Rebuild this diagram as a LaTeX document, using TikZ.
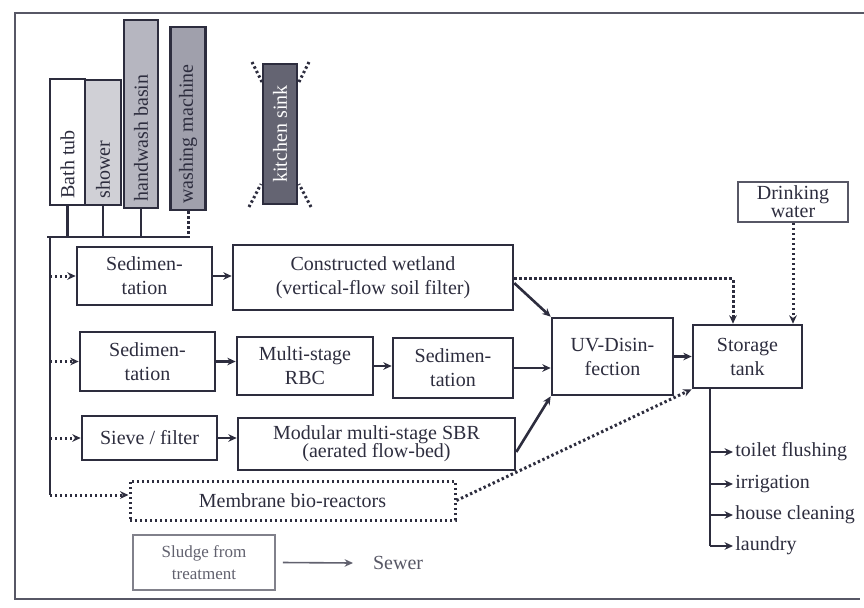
\documentclass[tikz,border=0pt]{standalone}
\usepackage{fontspec}
\setmainfont{Liberation Serif}
\newfontfamily\diagfont{Liberation Serif}
\usetikzlibrary{arrows.meta,calc}
\definecolor{ink}{RGB}{45,45,62}
\definecolor{fillA}{RGB}{208,208,214}
\definecolor{fillB}{RGB}{182,182,192}
\definecolor{fillC}{RGB}{160,160,172}
\definecolor{fillD}{RGB}{100,100,114}
\begin{document}
\begin{tikzpicture}[x=0.5pt,y=-0.5pt,
  every node/.style={font=\diagfont\fontsize{10}{12}\selectfont, text=ink},
  box/.style={draw=ink, line width=1.3pt, align=center, inner sep=1pt},
  srcbox/.style={draw=ink, line width=1.1pt, inner sep=0pt},
  srclabel/.style={rotate=90, anchor=west, inner xsep=3.5pt, inner ysep=1pt},
  ln/.style={draw=ink, line width=1.3pt},
  tip/.style={-{Stealth[length=4.2pt,width=3.8pt]}},
  arr/.style={ln, tip},
  dots/.style={draw=ink, line width=1.5pt, dash pattern=on 1.2pt off 1.3pt},
  dotarr/.style={dots, tip},
  dotbox/.style={dots, align=center, inner sep=1pt},
  outlbl/.style={anchor=west, inner xsep=1pt}
]
\useasboundingbox (0,0) rectangle (864,607);
% frame
\draw[draw=ink!80, line width=1pt] (864,13) -- (15,13) -- (15,599) -- (860,599);

% sources
\node[srcbox, fill=white, minimum width=17.5pt, minimum height=63pt] (bath) at (67.5,142) {};
\node[srclabel] (bathT) at (bath.south) {Bath tub};
\node[srcbox, fill=fillA, minimum width=18pt, minimum height=62.5pt] (shower) at (103,142.5) {};
\node[srclabel] (showerT) at (shower.south) {shower};
\node[srcbox, fill=fillB, minimum width=17pt, minimum height=94pt] (hand) at (141,114) {};
\node[srclabel] (handT) at (hand.south) {handwash basin};
\node[srcbox, fill=fillC, minimum width=17.5pt, minimum height=91.5pt] (wash) at (188,118.5) {};
\node[srclabel] (washT) at (wash.south) {washing machine};
\node[srcbox, fill=fillD, minimum width=17pt, minimum height=70pt] (kit) at (280,134) {};
\node[rotate=90, text=white, inner sep=1pt] (kitT) at (kit) {kitchen sink};
\draw[dots] (252,62) -- (262,82);
\draw[dots] (309,62) -- (299,82);
\draw[dots] (249,207) -- (261,184);
\draw[dots] (311,207) -- (299,184);

% collector
\coordinate (busL) at (47,237);
\coordinate (busR) at (190,237);
\coordinate (trunkTop) at (50,237);
\coordinate (trunkBot) at (50,495);
\draw[ln] (busL) -- (busR);
\draw[ln] (bath.south) -- (bath.south |- busL);
\draw[ln] (shower.south) -- (shower.south |- busL);
\draw[ln] (hand.south) -- (hand.south |- busL);
\draw[dots] (wash.south) -- (wash.south |- busL);
\draw[ln] (trunkTop) -- (trunkBot);

% treatment boxes
\node[box, minimum width=67.5pt, minimum height=29pt] (sed1) at (144.5,276) {Sedimen-\\tation};
\node[box, minimum width=140pt, minimum height=32.5pt] (wet) at (373,277.5) {Constructed wetland\\(vertical-flow soil filter)};
\node[box, minimum width=67.5pt, minimum height=29.5pt] (sed2) at (147.5,361.5) {Sedimen-\\tation};
\node[box, minimum width=68pt, minimum height=29pt] (rbc) at (305,366) {Multi-stage\\RBC};
\node[box, minimum width=60pt, minimum height=30pt] (sed3) at (453,368) {Sedimen-\\tation};
\node[box, minimum width=60.5pt, minimum height=38.5pt] (uv) at (612.5,356.5) {UV-Disin-\\fection};
\node[box, minimum width=54.5pt, minimum height=31.5pt] (st) at (747.5,356.5) {Storage\\tank};
\node[box, minimum width=67.5pt, minimum height=22pt] (sieve) at (149.5,438) {Sieve / filter};
\node[box, minimum width=138.5pt, minimum height=26pt] (sbr) at (376.5,444) {Modular multi-stage SBR\\[-3pt](aerated flow-bed)};
\node[dotbox, minimum width=162.5pt, minimum height=19.5pt] (mbr) at (292.5,500.5) {Membrane bio-reactors};
\node[draw=ink!60, line width=0.8pt, align=center, inner sep=1pt, minimum width=71pt, minimum height=27.5pt,
      text=ink!75, font=\diagfont\fontsize{8.5}{11}\selectfont] (sludge) at (204,562.5) {Sludge from\\treatment};
\node[anchor=west, text=ink!80] (sewer) at (366,563) {Sewer};
\node[draw=ink!80, line width=1pt, align=center, inner sep=1pt, minimum width=55pt, minimum height=20pt,
      font=\diagfont\fontsize{10}{9}\selectfont] (dw) at (793,202) {Drinking\\water};

% inputs from trunk
\draw[dotarr] (trunkTop |- sed1.west) -- (sed1.west);
\draw[dotarr] (trunkTop |- sed2.west) -- (sed2.west);
\draw[dotarr] (trunkTop |- sieve.west) -- (sieve.west);
\draw[dotarr] (trunkBot) -- (trunkBot -| mbr.west);

% row flows
\draw[arr] (sed1.east) -- (sed1.east -| wet.west);
\draw[arr] (sed2.east) -- (sed2.east -| rbc.west);
\draw[arr] (rbc.east) -- (rbc.east -| sed3.west);
\draw[arr] (sed3.east) -- (sed3.east -| uv.west);
\draw[arr] (sieve.east) -- (sieve.east -| sbr.west);
\draw[arr] ([yshift=-2.8pt]wet.east) -- (uv.north west);
\draw[arr] ([yshift=-4pt]sbr.east) -- (uv.south west);
\draw[arr] (uv.east) -- (uv.east -| st.west);
\draw[dotarr] ([yshift=-0.7pt]wet.east) -| ([xshift=-7.25pt]st.north);
\draw[dotarr] (dw.south) -- (dw.south |- st.north);
\draw[dotarr] (mbr.east) -- (st.south west);
\draw[draw=ink!75, line width=0.8pt, tip] ([xshift=3.5pt]sludge.east) -- ([xshift=-6.5pt]sewer.west);

% uses
\coordinate (tap) at ([xshift=-18.75pt]st.south);
\node[outlbl] (toilet) at (733,452) {toilet flushing};
\node[outlbl] (irr) at (733,484) {irrigation};
\node[outlbl] (clean) at (733,515) {house cleaning};
\node[outlbl] (laun) at (733,546) {laundry};
\draw[ln] (tap) -- (tap |- laun.west);
\draw[arr] (tap |- toilet.west) -- (toilet.west);
\draw[arr] (tap |- irr.west) -- (irr.west);
\draw[arr] (tap |- clean.west) -- (clean.west);
\draw[arr] (tap |- laun.west) -- (laun.west);
\end{tikzpicture}
\end{document}
